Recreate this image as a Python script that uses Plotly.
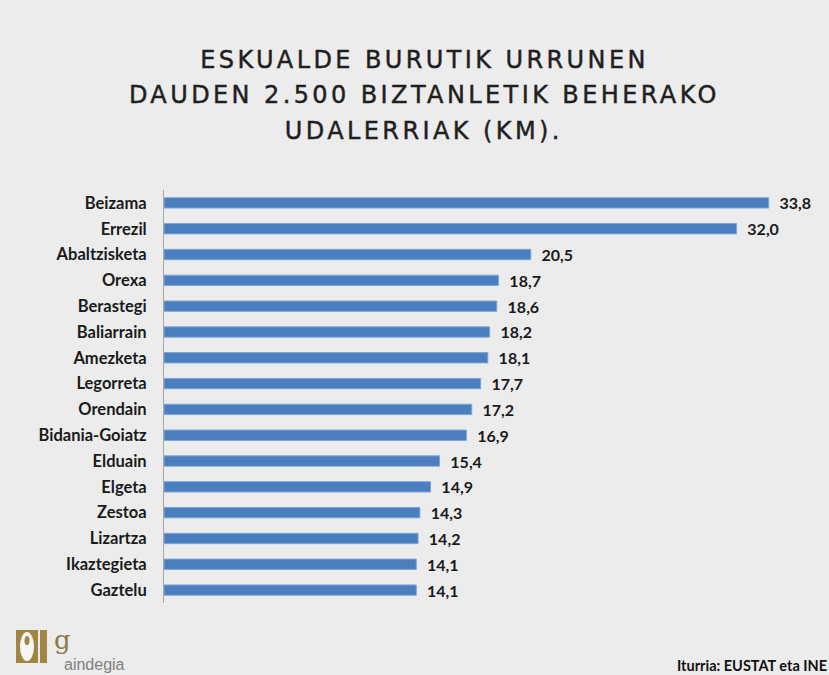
import plotly.graph_objects as go

towns = ["Beizama", "Errezil", "Abaltzisketa", "Orexa", "Berastegi", "Baliarrain",
         "Amezketa", "Legorreta", "Orendain", "Bidania-Goiatz", "Elduain", "Elgeta",
         "Zestoa", "Lizartza", "Ikaztegieta", "Gaztelu"]
km = [33.8, 32.0, 20.5, 18.7, 18.6, 18.2, 18.1, 17.7, 17.2, 16.9, 15.4, 14.9,
      14.3, 14.2, 14.1, 14.1]

title_lines = ["ESKUALDE BURUTIK URRUNEN",
               "DAUDEN 2.500 BIZTANLETIK BEHERAKO",
               "UDALERRIAK (KM)."]
source = "Iturria: EUSTAT eta INE"

W, H = 829, 675
L, R, T, B = 164, 3, 190, 72
PW, PH = W - L - R, H - T - B


def px(x):
    return (x - L) / PW


def py(y):
    return (H - B - y) / PH


fig = go.Figure(go.Bar(
    x=km, y=towns, orientation="h",
    marker=dict(color="#4a7ebf", line=dict(color="#7fa6d6", width=1)),
    width=0.4,
    texttemplate="  %{x:.1f}", textposition="outside", constraintext="none",
    textfont=dict(family="Lato", size=16, color="#1a1a1a", weight="bold"),
    cliponaxis=False, hoverinfo="skip",
))

fig.update_layout(
    width=W, height=H,
    paper_bgcolor="#ececec", plot_bgcolor="rgba(0,0,0,0)",
    separators=",.",
    margin=dict(l=L, r=R, t=T, b=B),
    showlegend=False,
    bargap=0.6,
    xaxis=dict(range=[0, 37], visible=False, fixedrange=True),
    yaxis=dict(autorange="reversed", showline=True, linecolor="#a8a8a8", linewidth=1,
               ticks="", showgrid=False, ticklabelstandoff=13, fixedrange=True,
               tickfont=dict(family="Lato", size=16.5, color="#1a1a1a", weight="bold")),
)

# title
for i, line in enumerate(title_lines):
    fig.add_annotation(text=line, xref="paper", yref="paper",
                       x=px(424), xanchor="center",
                       y=py(60 + i * 35.5), yanchor="middle",
                       showarrow=False,
                       font=dict(family="DejaVu Sans", size=24, color="#1f1f1f"))

# logo approximation
gold = "#a08642"
fig.add_shape(type="rect", xref="paper", yref="paper",
              x0=px(16), x1=px(38), y0=py(630), y1=py(663),
              fillcolor=gold, line=dict(width=0), layer="above")
fig.add_shape(type="circle", xref="paper", yref="paper",
              x0=px(20), x1=px(34), y0=py(632), y1=py(661),
              fillcolor="#f6f6f6", line=dict(width=0), layer="above")
fig.add_shape(type="circle", xref="paper", yref="paper",
              x0=px(24.5), x1=px(29.5), y0=py(636), y1=py(645),
              fillcolor=gold, line=dict(width=0), layer="above")
fig.add_shape(type="rect", xref="paper", yref="paper",
              x0=px(40), x1=px(47), y0=py(630), y1=py(663),
              fillcolor=gold, line=dict(width=0), layer="above")
fig.add_annotation(text="g", xref="paper", yref="paper",
                   x=px(52), xanchor="left",
                   y=py(640), yanchor="middle", showarrow=False,
                   font=dict(family="DejaVu Serif", size=26, color="#8a7a4a"))
fig.add_annotation(text="aindegia", xref="paper", yref="paper",
                   x=px(62), xanchor="left",
                   y=py(664), yanchor="middle", showarrow=False,
                   font=dict(family="Liberation Sans", size=16, color="#808080"))

# source
fig.add_annotation(text=source, xref="paper", yref="paper",
                   x=1 + R / PW, xanchor="right",
                   y=py(665), yanchor="middle", showarrow=False,
                   font=dict(family="Lato", size=14.5, color="#111111", weight="bold"))

post = """
document.body.style.margin='0';
document.body.style.overflow='hidden';
var titles = %s;
document.querySelectorAll('text.annotation-text').forEach(function(t){
  if (titles.indexOf(t.textContent) >= 0) {
    t.setAttribute('letter-spacing', '3.4px');
    t.style.stroke = '#1f1f1f';
    t.style.strokeWidth = '0.45px';
  }
});
""" % str(title_lines).replace("'", '"')

fig.write_html("out.html", post_script=post, config={"displayModeBar": False})
